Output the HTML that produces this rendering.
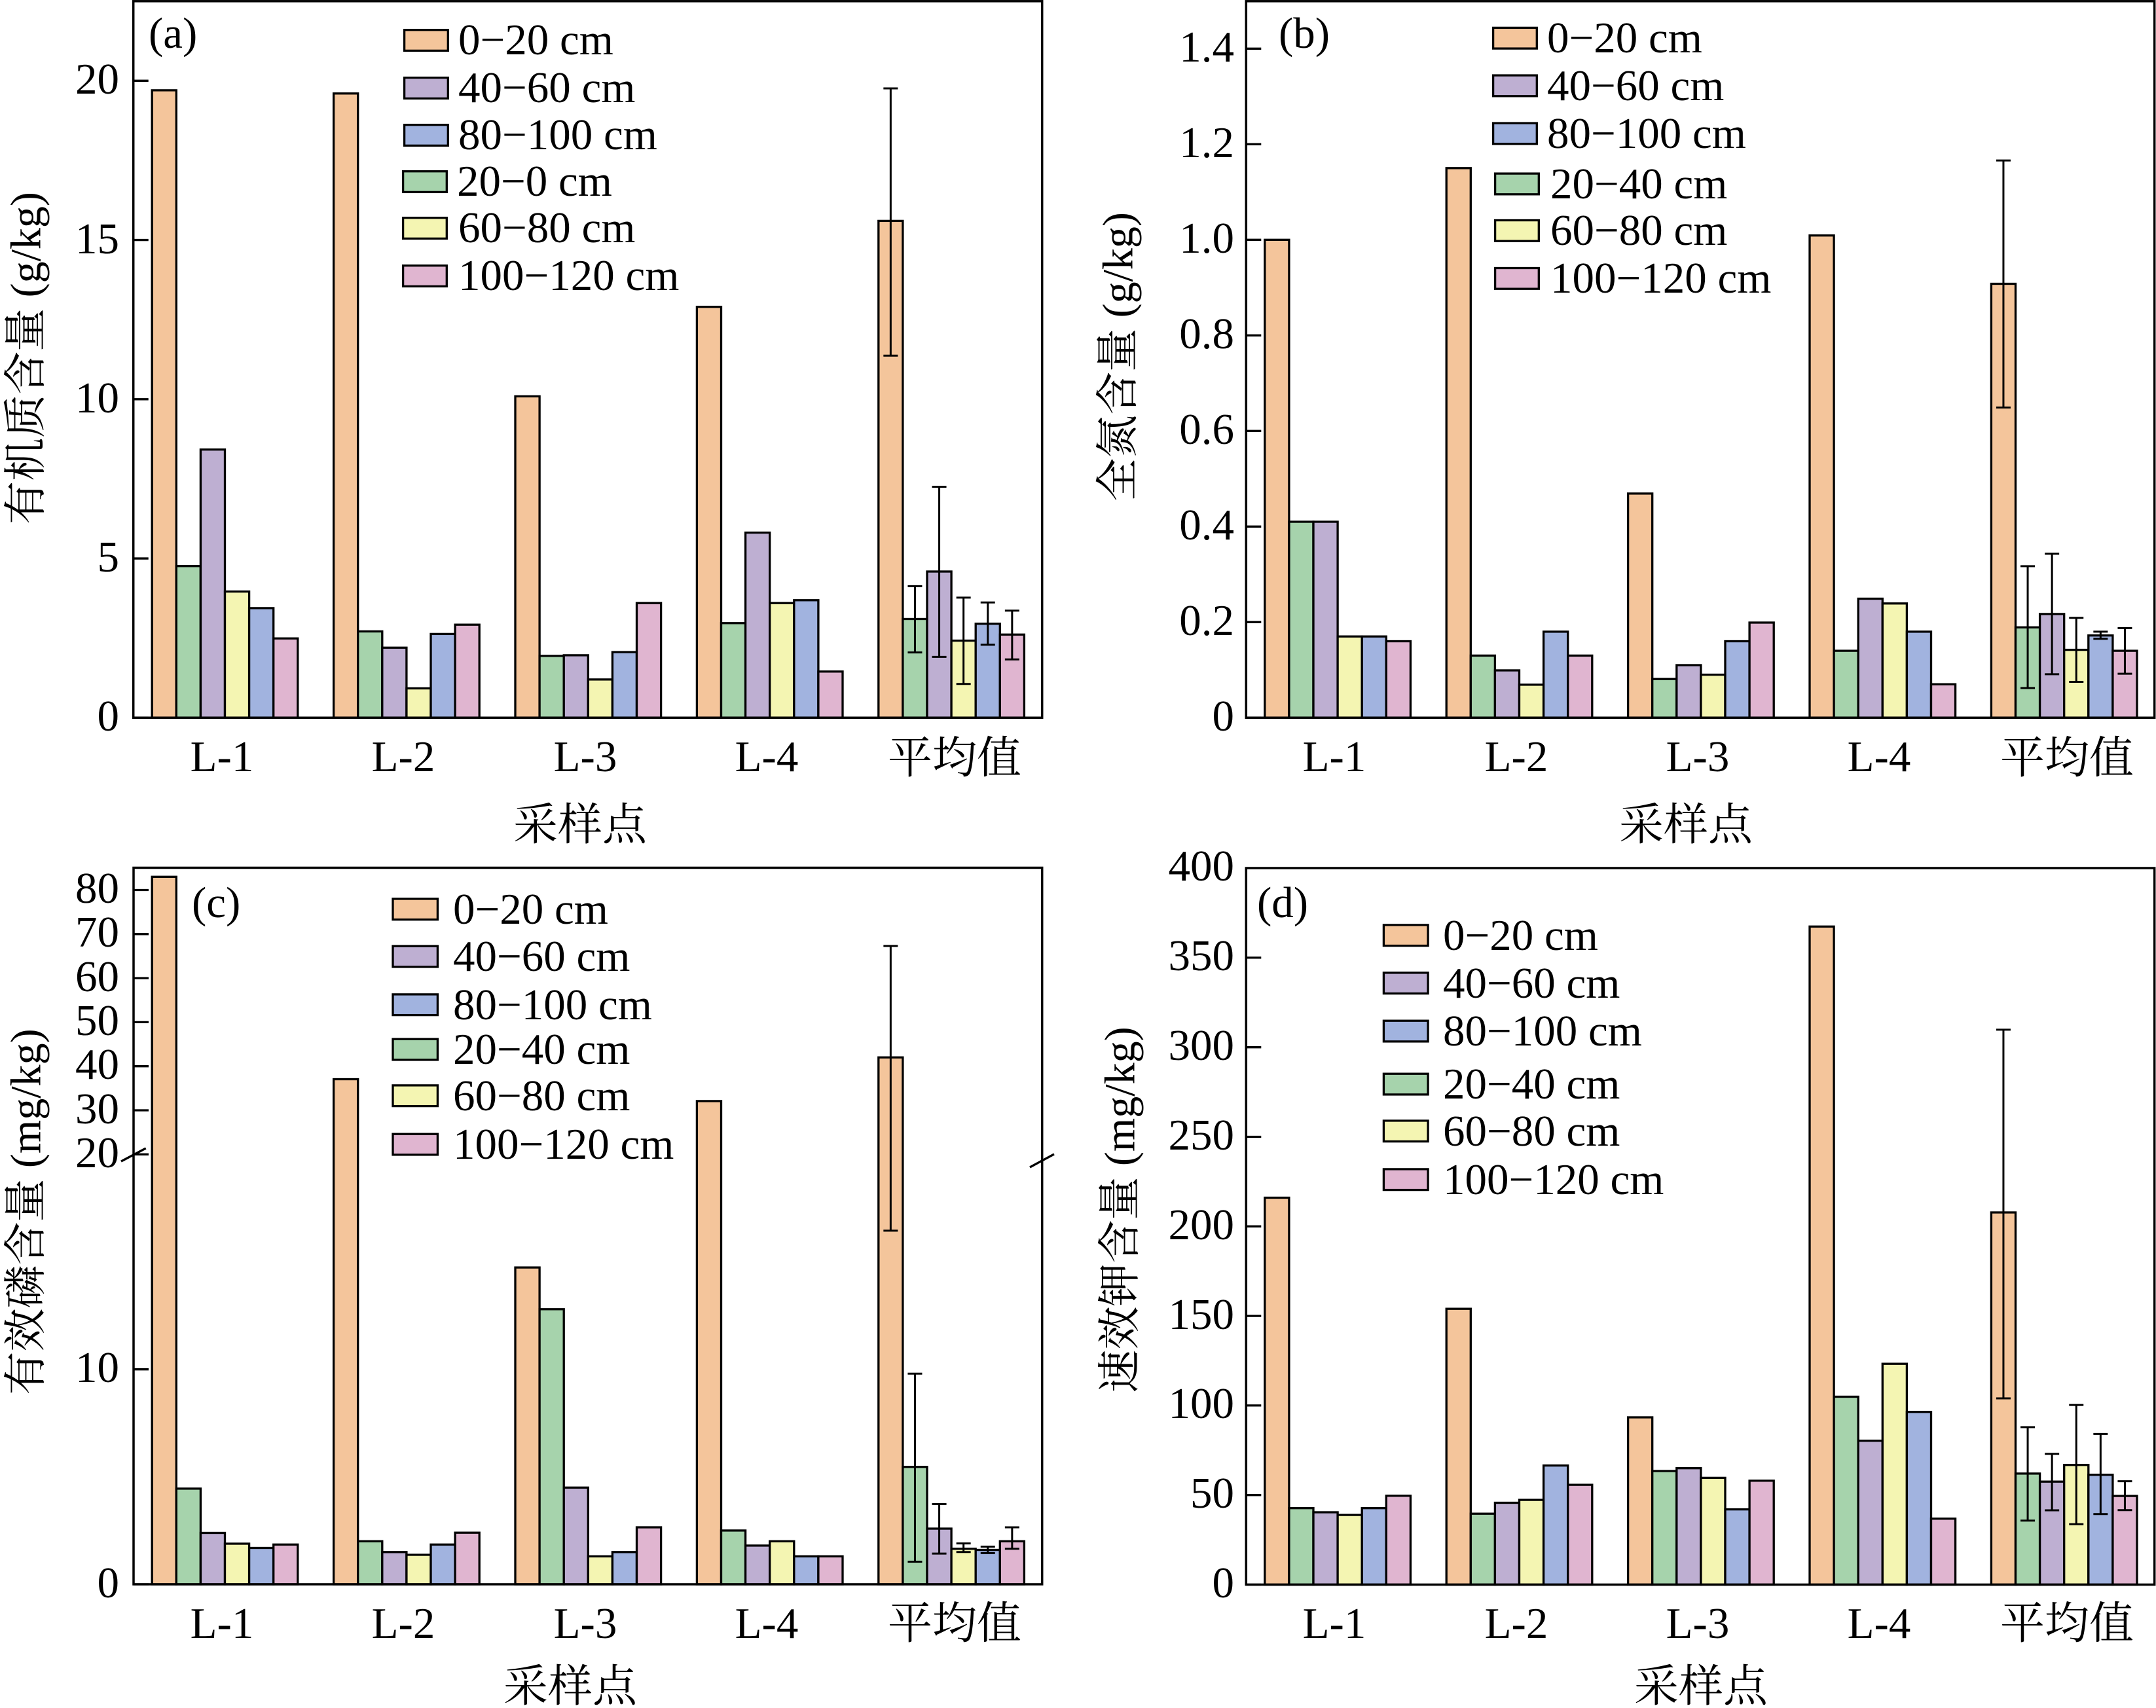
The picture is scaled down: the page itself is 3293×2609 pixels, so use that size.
<!DOCTYPE html>
<html><head><meta charset="utf-8">
<style>
html,body{margin:0;padding:0;background:#fff;}
svg{display:block;font-family:"Liberation Serif","Noto Serif CJK SC",serif;}
.o{fill:#F4C59B}.g{fill:#A6D3AC}.p{fill:#BEAFD2}.y{fill:#F4F5B2}.b{fill:#A1B3DF}.k{fill:#E0B5D0}
.bars rect{stroke:#000;stroke-width:3.3}
.frame{fill:none;stroke:#000;stroke-width:3.5}
.tk{fill:none;stroke:#000;stroke-width:3.3}
.err{fill:none;stroke:#000;stroke-width:3}
.tl{font-size:67px;text-anchor:end}
.lg{font-size:67px}
.cat{font-size:67px;text-anchor:middle}
.zh{font-size:68px;text-anchor:middle}
.yt{font-size:66px;text-anchor:middle;dominant-baseline:central}
.pl{font-size:67px}
.leg rect{stroke:#000;stroke-width:3.3}
</style></head>
<body>
<svg width="3293" height="2609" viewBox="0 0 3293 2609" xmlns="http://www.w3.org/2000/svg">
<rect x="0" y="0" width="3293" height="2609" fill="#fff"/>

<!-- ================= PANEL A ================= -->
<g class="bars">
<rect class="o" x="232.2" y="137.9" width="37.1" height="958.4"/>
<rect class="g" x="269.3" y="864.7" width="37.1" height="231.6"/>
<rect class="p" x="306.4" y="686.7" width="37.1" height="409.6"/>
<rect class="y" x="343.5" y="903.6" width="37.1" height="192.7"/>
<rect class="b" x="380.6" y="928.9" width="37.1" height="167.4"/>
<rect class="k" x="417.7" y="975.2" width="37.1" height="121.1"/>

<rect class="o" x="509.6" y="142.8" width="37.1" height="953.5"/>
<rect class="g" x="546.7" y="964.5" width="37.1" height="131.8"/>
<rect class="p" x="583.8" y="989.3" width="37.1" height="107.0"/>
<rect class="y" x="620.9" y="1051.5" width="37.1" height="44.8"/>
<rect class="b" x="658.0" y="968.4" width="37.1" height="127.9"/>
<rect class="k" x="695.1" y="954.2" width="37.1" height="142.1"/>

<rect class="o" x="787.0" y="605.4" width="37.1" height="490.9"/>
<rect class="g" x="824.1" y="1001.9" width="37.1" height="94.4"/>
<rect class="p" x="861.2" y="1000.9" width="37.1" height="95.4"/>
<rect class="y" x="898.3" y="1037.9" width="37.1" height="58.4"/>
<rect class="b" x="935.4" y="996.1" width="37.1" height="100.2"/>
<rect class="k" x="972.5" y="921.2" width="37.1" height="175.1"/>

<rect class="o" x="1064.4" y="468.7" width="37.1" height="627.6"/>
<rect class="g" x="1101.5" y="951.8" width="37.1" height="144.5"/>
<rect class="p" x="1138.6" y="813.6" width="37.1" height="282.7"/>
<rect class="y" x="1175.7" y="921.2" width="37.1" height="175.1"/>
<rect class="b" x="1212.8" y="916.8" width="37.1" height="179.5"/>
<rect class="k" x="1249.9" y="1025.8" width="37.1" height="70.5"/>

<rect class="o" x="1341.8" y="337.4" width="37.1" height="758.9"/>
<rect class="g" x="1378.9" y="945.5" width="37.1" height="150.8"/>
<rect class="p" x="1416.0" y="873.0" width="37.1" height="223.3"/>
<rect class="y" x="1453.1" y="978.6" width="37.1" height="117.7"/>
<rect class="b" x="1490.2" y="952.8" width="37.1" height="143.5"/>
<rect class="k" x="1527.3" y="969.3" width="37.1" height="127.0"/>
</g>
<path class="err" d="
M1360.35 543.2V135.0M1349.35 543.2H1371.35M1349.35 135.0H1371.35
M1397.45 996.6V895.4M1386.45 996.6H1408.45M1386.45 895.4H1408.45
M1434.55 1003.4V743.6M1423.55 1003.4H1445.55M1423.55 743.6H1445.55
M1471.65 1044.7V912.9M1460.65 1044.7H1482.65M1460.65 912.9H1482.65
M1508.75 984.9V920.2M1497.75 984.9H1519.75M1497.75 920.2H1519.75
M1545.85 1007.3V932.8M1534.85 1007.3H1556.85M1534.85 932.8H1556.85"/>
<rect class="frame" x="203.7" y="1.8" width="1388" height="1094.5"/>
<path class="tk" d="M203.7 1096.3H226.7M203.7 853.05H226.7M203.7 609.8H226.7M203.7 366.55H226.7M203.7 123.3H226.7"/>
<g class="tl">
<text x="182" y="1116">0</text>
<text x="182" y="873">5</text>
<text x="182" y="630">10</text>
<text x="182" y="387">15</text>
<text x="182" y="143">20</text>
</g>
<text class="pl" x="227" y="73">(a)</text>
<g class="leg">
<rect class="o" x="617.6" y="45.7" width="66.7" height="31.7"/>
<rect class="p" x="617.6" y="118.7" width="66.7" height="31.7"/>
<rect class="b" x="617.6" y="190.7" width="66.7" height="31.7"/>
<rect class="g" x="615.6" y="261.7" width="66.7" height="31.7"/>
<rect class="y" x="615.6" y="332.7" width="66.7" height="31.7"/>
<rect class="k" x="615.6" y="405.7" width="66.7" height="31.7"/>
</g>
<g class="lg">
<text x="700" y="83">0−20 cm</text>
<text x="700" y="156">40−60 cm</text>
<text x="700" y="228">80−100 cm</text>
<text x="698" y="299">20−0 cm</text>
<text x="700" y="370">60−80 cm</text>
<text x="700" y="443">100−120 cm</text>
</g>
<g class="cat">
<text x="339" y="1178">L-1</text>
<text x="616" y="1178">L-2</text>
<text x="894" y="1178">L-3</text>
<text x="1171" y="1178">L-4</text>
</g>
<text class="zh" x="1458" y="1181">平均值</text>
<text class="zh" x="886" y="1283">采样点</text>
<text class="yt" transform="translate(40,547) rotate(-90)">有机质含量 (g/kg)</text>

<!-- ================= PANEL B ================= -->
<g class="bars">
<rect class="o" x="1931.8" y="366.3" width="37.1" height="730.0"/>
<rect class="g" x="1968.9" y="797.0" width="37.1" height="299.3"/>
<rect class="p" x="2006.0" y="797.0" width="37.1" height="299.3"/>
<rect class="y" x="2043.1" y="972.2" width="37.1" height="124.1"/>
<rect class="b" x="2080.2" y="972.2" width="37.1" height="124.1"/>
<rect class="k" x="2117.3" y="979.5" width="37.1" height="116.8"/>

<rect class="o" x="2209.2" y="256.8" width="37.1" height="839.5"/>
<rect class="g" x="2246.3" y="1001.4" width="37.1" height="94.9"/>
<rect class="p" x="2283.4" y="1024.0" width="37.1" height="72.3"/>
<rect class="y" x="2320.5" y="1045.9" width="37.1" height="50.4"/>
<rect class="b" x="2357.6" y="964.9" width="37.1" height="131.4"/>
<rect class="k" x="2394.7" y="1001.4" width="37.1" height="94.9"/>

<rect class="o" x="2486.6" y="753.9" width="37.1" height="342.4"/>
<rect class="g" x="2523.7" y="1037.2" width="37.1" height="59.1"/>
<rect class="p" x="2560.8" y="1016.0" width="37.1" height="80.3"/>
<rect class="y" x="2597.9" y="1030.6" width="37.1" height="65.7"/>
<rect class="b" x="2635.0" y="979.5" width="37.1" height="116.8"/>
<rect class="k" x="2672.1" y="951.0" width="37.1" height="145.3"/>

<rect class="o" x="2764.0" y="359.7" width="37.1" height="736.6"/>
<rect class="g" x="2801.1" y="994.1" width="37.1" height="102.2"/>
<rect class="p" x="2838.2" y="914.5" width="37.1" height="181.8"/>
<rect class="y" x="2875.3" y="921.8" width="37.1" height="174.5"/>
<rect class="b" x="2912.4" y="964.9" width="37.1" height="131.4"/>
<rect class="k" x="2949.5" y="1045.2" width="37.1" height="51.1"/>

<rect class="o" x="3041.4" y="433.5" width="37.1" height="662.8"/>
<rect class="g" x="3078.5" y="958.3" width="37.1" height="138.0"/>
<rect class="p" x="3115.6" y="937.9" width="37.1" height="158.4"/>
<rect class="y" x="3152.7" y="992.6" width="37.1" height="103.7"/>
<rect class="b" x="3189.8" y="970.7" width="37.1" height="125.6"/>
<rect class="k" x="3226.9" y="994.1" width="37.1" height="102.2"/>
</g>
<path class="err" d="
M3059.95 622.5V245.1M3048.95 622.5H3070.95M3048.95 245.1H3070.95
M3097.05 1051.0V864.9M3086.05 1051.0H3108.05M3086.05 864.9H3108.05
M3134.15 1029.9V845.9M3123.15 1029.9H3145.15M3123.15 845.9H3145.15
M3171.25 1041.5V943.7M3160.25 1041.5H3182.25M3160.25 943.7H3182.25
M3208.35 975.8V964.9M3197.35 975.8H3219.35M3197.35 964.9H3219.35
M3245.45 1029.1V959.4M3234.45 1029.1H3256.45M3234.45 959.4H3256.45"/>
<rect class="frame" x="1903.3" y="1.8" width="1387.4" height="1094.5"/>
<path class="tk" d="M1903.3 1096.3H1926.3M1903.3 950.3H1926.3M1903.3 804.3H1926.3M1903.3 658.3H1926.3M1903.3 512.3H1926.3M1903.3 366.3H1926.3M1903.3 220.3H1926.3M1903.3 74.3H1926.3"/>
<g class="tl">
<text x="1885" y="1116">0</text>
<text x="1885" y="970">0.2</text>
<text x="1885" y="824">0.4</text>
<text x="1885" y="678">0.6</text>
<text x="1885" y="532">0.8</text>
<text x="1885" y="386">1.0</text>
<text x="1885" y="240">1.2</text>
<text x="1885" y="94">1.4</text>
</g>
<text class="pl" x="1953" y="73">(b)</text>
<g class="leg">
<rect class="o" x="2280.6" y="42.4" width="66.7" height="31.7"/>
<rect class="p" x="2280.6" y="115.1" width="66.7" height="31.7"/>
<rect class="b" x="2280.6" y="188.1" width="66.7" height="31.7"/>
<rect class="g" x="2283.6" y="265.1" width="66.7" height="31.7"/>
<rect class="y" x="2283.6" y="336.5" width="66.7" height="31.7"/>
<rect class="k" x="2283.6" y="409.5" width="66.7" height="31.7"/>
</g>
<g class="lg">
<text x="2363" y="80">0−20 cm</text>
<text x="2363" y="153">40−60 cm</text>
<text x="2363" y="226">80−100 cm</text>
<text x="2368" y="303">20−40 cm</text>
<text x="2368" y="374">60−80 cm</text>
<text x="2368" y="447">100−120 cm</text>
</g>
<g class="cat">
<text x="2038" y="1178">L-1</text>
<text x="2316" y="1178">L-2</text>
<text x="2593" y="1178">L-3</text>
<text x="2870" y="1178">L-4</text>
</g>
<text class="zh" x="3157" y="1181">平均值</text>
<text class="zh" x="2575" y="1283">采样点</text>
<text class="yt" transform="translate(1708,545) rotate(-90)">全氮含量 (g/kg)</text>

<!-- ================= PANEL C ================= -->
<g class="bars">
<rect class="o" x="232.2" y="1339.3" width="37.1" height="1080.7"/>
<rect class="g" x="269.3" y="2273.9" width="37.1" height="146.1"/>
<rect class="p" x="306.4" y="2341.5" width="37.1" height="78.5"/>
<rect class="y" x="343.5" y="2358.0" width="37.1" height="62.0"/>
<rect class="b" x="380.6" y="2364.5" width="37.1" height="55.5"/>
<rect class="k" x="417.7" y="2359.3" width="37.1" height="60.7"/>

<rect class="o" x="509.6" y="1648.5" width="37.1" height="771.5"/>
<rect class="g" x="546.7" y="2354.3" width="37.1" height="65.7"/>
<rect class="p" x="583.8" y="2370.8" width="37.1" height="49.2"/>
<rect class="y" x="620.9" y="2375.0" width="37.1" height="45.0"/>
<rect class="b" x="658.0" y="2359.3" width="37.1" height="60.7"/>
<rect class="k" x="695.1" y="2341.2" width="37.1" height="78.8"/>

<rect class="o" x="787.0" y="1936.1" width="37.1" height="483.9"/>
<rect class="g" x="824.1" y="1999.8" width="37.1" height="420.2"/>
<rect class="p" x="861.2" y="2272.3" width="37.1" height="147.7"/>
<rect class="y" x="898.3" y="2377.3" width="37.1" height="42.7"/>
<rect class="b" x="935.4" y="2370.8" width="37.1" height="49.2"/>
<rect class="k" x="972.5" y="2333.0" width="37.1" height="87.0"/>

<rect class="o" x="1064.4" y="1681.9" width="37.1" height="738.1"/>
<rect class="g" x="1101.5" y="2337.9" width="37.1" height="82.1"/>
<rect class="p" x="1138.6" y="2360.9" width="37.1" height="59.1"/>
<rect class="y" x="1175.7" y="2354.3" width="37.1" height="65.7"/>
<rect class="b" x="1212.8" y="2377.3" width="37.1" height="42.7"/>
<rect class="k" x="1249.9" y="2377.3" width="37.1" height="42.7"/>

<rect class="o" x="1341.8" y="1615.2" width="37.1" height="804.8"/>
<rect class="g" x="1378.9" y="2240.7" width="37.1" height="179.3"/>
<rect class="p" x="1416.0" y="2335.0" width="37.1" height="85.0"/>
<rect class="y" x="1453.1" y="2365.8" width="37.1" height="54.2"/>
<rect class="b" x="1490.2" y="2367.5" width="37.1" height="52.5"/>
<rect class="k" x="1527.3" y="2354.3" width="37.1" height="65.7"/>
</g>
<path class="err" d="
M1360.35 1879.9V1445.0M1349.35 1879.9H1371.35M1349.35 1445.0H1371.35
M1397.45 2385.5V2098.3M1386.45 2385.5H1408.45M1386.45 2098.3H1408.45
M1434.55 2373.1V2297.5M1423.55 2373.1H1445.55M1423.55 2297.5H1445.55
M1471.65 2370.8V2357.6M1460.65 2370.8H1482.65M1460.65 2357.6H1482.65
M1508.75 2372.4V2362.5M1497.75 2372.4H1519.75M1497.75 2362.5H1519.75
M1545.85 2365.8V2333.0M1534.85 2365.8H1556.85M1534.85 2333.0H1556.85"/>
<rect class="frame" x="204" y="1325.5" width="1387.7" height="1094.5"/>
<path class="tk" d="M204 2420H227M204 2091.7H227M204 1763.3H227M204 1696.0H227M204 1628.7H227M204 1561.4H227M204 1494.1H227M204 1426.8H227M204 1359.5H227"/>
<path class="tk" d="M185 1774L222.7 1754M1573 1783L1610 1763"/>
<g class="tl">
<text x="182" y="2440">0</text>
<text x="182" y="2111">10</text>
<text x="182" y="1783">20</text>
<text x="182" y="1716">30</text>
<text x="182" y="1648">40</text>
<text x="182" y="1581">50</text>
<text x="182" y="1514">60</text>
<text x="182" y="1446">70</text>
<text x="182" y="1379">80</text>
</g>
<text class="pl" x="293" y="1401">(c)</text>
<g class="leg">
<rect class="o" x="600" y="1373" width="68.4" height="31.7"/>
<rect class="p" x="600" y="1445.2" width="68.4" height="31.7"/>
<rect class="b" x="600" y="1518.9" width="68.4" height="31.7"/>
<rect class="g" x="600" y="1587.2" width="68.4" height="31.7"/>
<rect class="y" x="600" y="1657.9" width="68.4" height="31.7"/>
<rect class="k" x="600" y="1732.2" width="68.4" height="31.7"/>
</g>
<g class="lg">
<text x="692" y="1411">0−20 cm</text>
<text x="692" y="1483">40−60 cm</text>
<text x="692" y="1557">80−100 cm</text>
<text x="692" y="1625">20−40 cm</text>
<text x="692" y="1696">60−80 cm</text>
<text x="692" y="1770">100−120 cm</text>
</g>
<g class="cat">
<text x="339" y="2502">L-1</text>
<text x="616" y="2502">L-2</text>
<text x="894" y="2502">L-3</text>
<text x="1171" y="2502">L-4</text>
</g>
<text class="zh" x="1458" y="2503">平均值</text>
<text class="zh" x="871" y="2599">采样点</text>
<text class="yt" transform="translate(40,1851) rotate(-90)">有效磷含量 (mg/kg)</text>

<!-- ================= PANEL D ================= -->
<g class="bars">
<rect class="o" x="1931.8" y="1829.5" width="37.1" height="591.0"/>
<rect class="g" x="1968.9" y="2303.7" width="37.1" height="116.8"/>
<rect class="p" x="2006.0" y="2310.0" width="37.1" height="110.5"/>
<rect class="y" x="2043.1" y="2314.1" width="37.1" height="106.4"/>
<rect class="b" x="2080.2" y="2303.7" width="37.1" height="116.8"/>
<rect class="k" x="2117.3" y="2284.8" width="37.1" height="135.7"/>

<rect class="o" x="2209.2" y="1999.2" width="37.1" height="421.3"/>
<rect class="g" x="2246.3" y="2312.2" width="37.1" height="108.3"/>
<rect class="p" x="2283.4" y="2295.5" width="37.1" height="125.0"/>
<rect class="y" x="2320.5" y="2291.1" width="37.1" height="129.4"/>
<rect class="b" x="2357.6" y="2238.6" width="37.1" height="181.9"/>
<rect class="k" x="2394.7" y="2268.1" width="37.1" height="152.4"/>

<rect class="o" x="2486.6" y="2165.0" width="37.1" height="255.5"/>
<rect class="g" x="2523.7" y="2247.0" width="37.1" height="173.5"/>
<rect class="p" x="2560.8" y="2242.7" width="37.1" height="177.8"/>
<rect class="y" x="2597.9" y="2257.4" width="37.1" height="163.1"/>
<rect class="b" x="2635.0" y="2305.6" width="37.1" height="114.9"/>
<rect class="k" x="2672.1" y="2261.8" width="37.1" height="158.7"/>

<rect class="o" x="2764.0" y="1415.3" width="37.1" height="1005.2"/>
<rect class="g" x="2801.1" y="2133.5" width="37.1" height="287.0"/>
<rect class="p" x="2838.2" y="2200.8" width="37.1" height="219.7"/>
<rect class="y" x="2875.3" y="2083.2" width="37.1" height="337.3"/>
<rect class="b" x="2912.4" y="2156.7" width="37.1" height="263.8"/>
<rect class="k" x="2949.5" y="2319.8" width="37.1" height="100.7"/>

<rect class="o" x="3041.4" y="1852.0" width="37.1" height="568.5"/>
<rect class="g" x="3078.5" y="2250.9" width="37.1" height="169.6"/>
<rect class="p" x="3115.6" y="2263.2" width="37.1" height="157.3"/>
<rect class="y" x="3152.7" y="2237.7" width="37.1" height="182.8"/>
<rect class="b" x="3189.8" y="2252.8" width="37.1" height="167.7"/>
<rect class="k" x="3226.9" y="2285.1" width="37.1" height="135.4"/>
</g>
<path class="err" d="
M3059.95 2136.0V1572.9M3048.95 2136.0H3070.95M3048.95 1572.9H3070.95
M3097.05 2322.8V2180.0M3086.05 2322.8H3108.05M3086.05 2180.0H3108.05
M3134.15 2307.0V2220.8M3123.15 2307.0H3145.15M3123.15 2220.8H3145.15
M3171.25 2328.3V2146.1M3160.25 2328.3H3182.25M3160.25 2146.1H3182.25
M3208.35 2312.7V2190.4M3197.35 2312.7H3219.35M3197.35 2190.4H3219.35
M3245.45 2306.7V2262.6M3234.45 2306.7H3256.45M3234.45 2262.6H3256.45"/>
<rect class="frame" x="1903.3" y="1326" width="1387.4" height="1094.5"/>
<path class="tk" d="M1903.3 2420.5H1926.3M1903.3 2283.7H1926.3M1903.3 2146.9H1926.3M1903.3 2010.1H1926.3M1903.3 1873.3H1926.3M1903.3 1736.5H1926.3M1903.3 1599.7H1926.3M1903.3 1462.9H1926.3"/>
<g class="tl">
<text x="1885" y="2440">0</text>
<text x="1885" y="2303">50</text>
<text x="1885" y="2166">100</text>
<text x="1885" y="2030">150</text>
<text x="1885" y="1893">200</text>
<text x="1885" y="1756">250</text>
<text x="1885" y="1619">300</text>
<text x="1885" y="1482">350</text>
<text x="1885" y="1345">400</text>
</g>
<text class="pl" x="1920" y="1401">(d)</text>
<g class="leg">
<rect class="o" x="2113.4" y="1412.9" width="67.7" height="31.7"/>
<rect class="p" x="2113.4" y="1485.9" width="67.7" height="31.7"/>
<rect class="b" x="2113.4" y="1559.2" width="67.7" height="31.7"/>
<rect class="g" x="2113.4" y="1640.2" width="67.7" height="31.7"/>
<rect class="y" x="2113.4" y="1711.9" width="67.7" height="31.7"/>
<rect class="k" x="2113.4" y="1785.9" width="67.7" height="31.7"/>
</g>
<g class="lg">
<text x="2204" y="1451">0−20 cm</text>
<text x="2204" y="1524">40−60 cm</text>
<text x="2204" y="1597">80−100 cm</text>
<text x="2204" y="1678">20−40 cm</text>
<text x="2204" y="1750">60−80 cm</text>
<text x="2204" y="1824">100−120 cm</text>
</g>
<g class="cat">
<text x="2038" y="2502">L-1</text>
<text x="2316" y="2502">L-2</text>
<text x="2593" y="2502">L-3</text>
<text x="2870" y="2502">L-4</text>
</g>
<text class="zh" x="3157" y="2503">平均值</text>
<text class="zh" x="2598" y="2599">采样点</text>
<text class="yt" transform="translate(1711,1848) rotate(-90)">速效钾含量 (mg/kg)</text>
</svg>
</body></html>
